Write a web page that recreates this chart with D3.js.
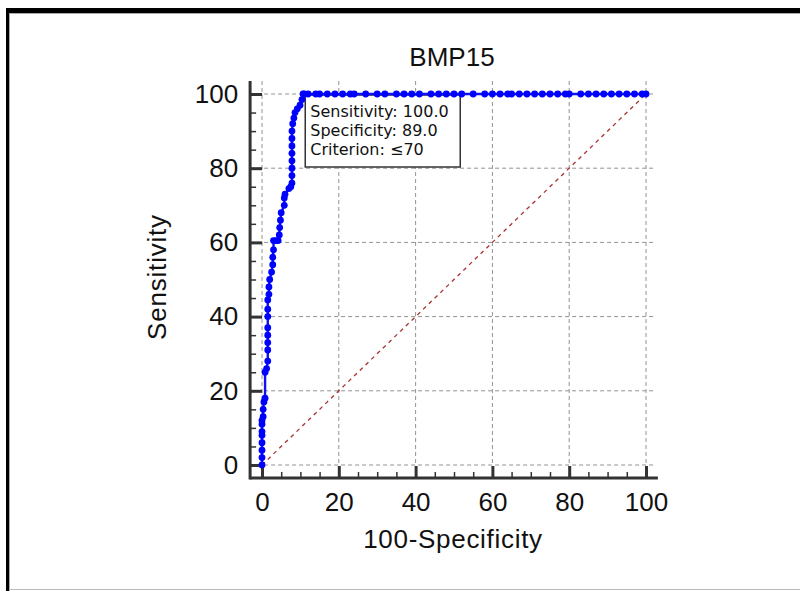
<!DOCTYPE html>
<html lang="en">
<head>
<meta charset="utf-8">
<script src="https://d3js.org/d3.v7.min.js"></script>
<title>BMP15 ROC</title>
<style>
    body { margin: 0; background: #fff; }
    svg text { font-family: Arial, "Liberation Sans", sans-serif; fill: #111; }
</style>
</head>
<body>
<svg id="main" width="800" height="591"></svg>
<script>
// ROC points (100-Specificity, Sensitivity)
const fpr = [0, 0, 0, 0, 0, 0, 0, 0, 0.3, 0.3, 0.5, 0.8, 0.8, 1.2, 1.5, 1.5, 1.5, 1.5, 1.5, 1.5, 1.5, 1.5,
    1.8, 1.8, 2.0, 2.5, 2.8, 2.8, 3.0, 3.0, 3.6, 4.2, 4.5, 4.6, 4.8, 5.0, 5.8, 5.8, 6.0, 7.0, 7.5,
    7.8, 7.8, 7.8, 7.8, 7.8, 7.8, 7.8, 7.8, 8.0, 8.3, 8.6, 9.2, 9.9, 10.4, 10.7,
    11, 12, 14, 15, 17, 19, 21, 23, 24, 27, 30, 32, 35, 37, 39, 41, 44, 46, 48, 50, 52, 55, 58, 60,
    62, 64, 65, 67, 69, 71, 73, 75, 77, 79, 80, 83, 85, 87, 89, 91, 93, 95, 97, 99, 100];
const sens = [0, 2, 4, 6, 8, 9, 11, 12, 13, 15, 17, 18, 25, 26, 28, 31, 33, 35, 37, 40, 42, 44.5,
    46, 48, 50, 52, 54, 56, 58, 60.5, 60.5, 60.5, 62, 64, 66, 68, 70, 72, 73, 74.5, 75,
    76, 78, 80, 82, 84, 86, 88, 90, 92, 93.5, 95, 96, 97, 98.5, 100,
    100, 100, 100, 100, 100, 100, 100, 100, 100, 100, 100, 100, 100, 100, 100, 100, 100, 100, 100, 100, 100, 100, 100, 100,
    100, 100, 100, 100, 100, 100, 100, 100, 100, 100, 100, 100, 100, 100, 100, 100, 100, 100, 100, 100, 100];

const majorTicks = [0, 20, 40, 60, 80, 100];
const minorTicks = [5, 10, 15, 25, 30, 35, 45, 50, 55, 65, 70, 75, 85, 90, 95];
const chartTitle = "BMP15";
const xTitle = "100-Specificity";
const yTitle = "Sensitivity";
const boxLines = ["Sensitivity: 100.0", "Specificity: 89.0", "Criterion: \u226470"];
const criterion = [11, 100];

let svg = d3.select('svg#main');

// window frame
svg.append("rect").attr("x", 6).attr("y", 8).attr("width", 800).attr("height", 5).attr("fill", "#000");
svg.append("rect").attr("x", 6).attr("y", 8).attr("width", 3).attr("height", 600).attr("fill", "#000");
svg.append("line").attr("x1", 9).attr("x2", 800).attr("y1", 13.5).attr("y2", 13.5).attr("stroke", "#aaa");
svg.append("line").attr("x1", 9.5).attr("x2", 9.5).attr("y1", 13).attr("y2", 591).attr("stroke", "#aaa");
svg.append("line").attr("x1", 9).attr("x2", 800).attr("y1", 589.5).attr("y2", 589.5).attr("stroke", "#bbb");

let x = d3.scaleLinear().domain([0, 100]).range([262, 646]);
let y = d3.scaleLinear().domain([0, 100]).range([465, 94]);
const xMin = x(-3.1), xMax = x(103.1), yMin = y(-3.5), yMax = y(103.5);

// grid
svg.append("g").selectAll("line").data(majorTicks).enter().append("line")
    .attr("x1", d => x(d)).attr("x2", d => x(d)).attr("y1", yMax).attr("y2", yMin)
    .attr("stroke", "#939393").attr("stroke-dasharray", "4,3");
svg.append("g").selectAll("line").data(majorTicks).enter().append("line")
    .attr("y1", d => y(d)).attr("y2", d => y(d)).attr("x1", xMin).attr("x2", xMax - 3)
    .attr("stroke", "#939393").attr("stroke-dasharray", "4,3");

// reference diagonal
svg.append("line")
    .attr("x1", x(0)).attr("y1", y(0)).attr("x2", x(100)).attr("y2", y(100))
    .attr("stroke", "#a83232").attr("stroke-width", 1.3).attr("stroke-dasharray", "4,4");

// axes
let xAxis = svg.append("g").attr("transform", "translate(0," + yMin + ")")
    .call(d3.axisBottom(x).tickValues(majorTicks).tickSize(-12).tickPadding(15));
let xMinor = svg.append("g").attr("transform", "translate(0," + yMin + ")")
    .call(d3.axisBottom(x).tickValues(minorTicks).tickSize(-6).tickFormat(""));
let yAxis = svg.append("g").attr("transform", "translate(" + xMin + ",0)")
    .call(d3.axisLeft(y).tickValues(majorTicks).tickSize(-12).tickPadding(12));
let yMinor = svg.append("g").attr("transform", "translate(" + xMin + ",0)")
    .call(d3.axisLeft(y).tickValues(minorTicks).tickSize(-6).tickFormat(""));

[xAxis, xMinor, yAxis, yMinor].forEach(a => {
    a.select(".domain").remove();
    a.selectAll("line").attr("stroke", "#333");
    a.selectAll("text").style("font-size", "26px").attr("fill", "#111");
});
xAxis.selectAll("line").attr("stroke-width", 3);
yAxis.selectAll("line").attr("stroke-width", 3);
xMinor.selectAll("line").attr("stroke-width", 1.5);
yMinor.selectAll("line").attr("stroke-width", 1.5);

svg.append("line").attr("x1", xMin).attr("x2", xMax).attr("y1", yMin).attr("y2", yMin)
    .attr("stroke", "#333").attr("stroke-width", 3);
svg.append("line").attr("x1", xMin).attr("x2", xMin).attr("y1", yMax).attr("y2", yMin + 1.5)
    .attr("stroke", "#333").attr("stroke-width", 3);

// titles
svg.append("text").attr("x", 452).attr("y", 66)
    .attr("text-anchor", "middle").style("font-size", "26px").text(chartTitle);
svg.append("text").attr("x", 453).attr("y", 548)
    .attr("text-anchor", "middle").style("font-size", "26px").style("letter-spacing", "0.7px").text(xTitle);
svg.append("text").attr("transform", "translate(166,277) rotate(-90)")
    .attr("text-anchor", "middle").style("font-size", "26px").style("letter-spacing", "0.8px").text(yTitle);

// criterion box
let bx = x(criterion[0]) + 1, by = y(criterion[1]) + 1;
svg.append("rect").attr("x", bx).attr("y", by).attr("width", 155).attr("height", 72)
    .attr("fill", "#fff").attr("stroke", "#333").attr("stroke-width", 1.5);
svg.append("g").selectAll("text").data(boxLines).enter().append("text")
    .attr("x", bx + 5).attr("y", (d, i) => by + 22 + i * 19)
    .style("font-family", "'DejaVu Sans', sans-serif").style("font-size", "16px")
    .attr("fill", "#222").text(d => d);

// ROC curve
let pts = fpr.map((f, i) => [f, sens[i]]);
svg.append("path").datum(pts)
    .attr("fill", "none").attr("stroke", "#1212ee").attr("stroke-width", 2.4)
    .attr("d", d3.line().x(d => x(d[0])).y(d => y(d[1])));
svg.append("g").selectAll("circle").data(pts).enter().append("circle")
    .attr("cx", d => x(d[0])).attr("cy", d => y(d[1])).attr("r", 3.4)
    .attr("fill", "#0000ff");
</script>
</body>
</html>
